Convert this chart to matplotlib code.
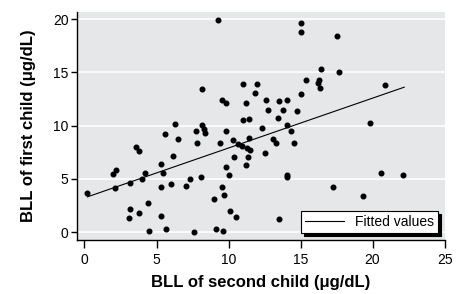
import matplotlib
matplotlib.use("Agg")
import matplotlib.pyplot as plt

plt.rcParams['font.family'] = ['Liberation Sans Narrow', 'Liberation Sans', 'DejaVu Sans']

# BLL pairs (second child, first child)
second_child = [0.17, 1.98, 2.2, 2.1, 3.18, 4.0, 4.22, 3.58, 3.8, 3.18,
                3.1, 3.8, 4.41, 4.5, 5.31, 5.43, 5.31, 6.0, 5.31, 5.68,
                6.12, 5.61, 6.52, 6.3, 7.74, 7.81, 7.3, 7.03, 8.09, 7.6,
                8.15, 8.15, 8.3, 8.4, 9.29, 15.03, 15.03, 11.03, 12.0, 11.84,
                9.53, 9.83, 11.22, 12.6, 13.53, 14.04, 15.36, 16.3, 16.24, 16.33,
                16.45, 17.65, 17.53, 15.03, 12.72, 13.8, 14.74, 13.42, 11.03, 11.42,
                14.04, 20.85, 19.85, 9.83, 12.35, 14.34, 9.41, 10.29, 11.44, 10.64,
                10.92, 11.26, 11.49, 13.11, 13.28, 14.55, 12.53, 10.4, 11.33, 9.83,
                11.22, 10.03, 14.04, 14.04, 9.53, 9.71, 9.02, 10.1, 10.5, 13.5,
                9.13, 9.64, 20.57, 22.14, 17.24, 19.36]
first_child = [3.7, 5.45, 5.8, 4.1, 4.57, 4.98, 5.57, 7.98, 7.6, 2.13,
               1.35, 1.75, 2.72, 0.12, 6.38, 5.5, 4.26, 4.48, 1.53, 0.31,
               7.16, 9.2, 8.7, 10.1, 9.48, 8.38, 4.98, 4.35, 5.2, 0.03,
               13.46, 10.02, 9.7, 9.3, 19.9, 19.6, 18.8, 13.87, 13.87, 13.05,
               12.36, 12.08, 12.08, 12.36, 12.27, 12.42, 14.24, 14.24, 14.02, 13.55,
               15.28, 15.05, 18.4, 12.96, 11.43, 11.43, 11.33, 10.7, 10.55, 10.64,
               10.02, 13.77, 10.2, 9.51, 9.73, 9.48, 8.33, 8.64, 8.8, 8.23,
               8.1, 7.92, 7.7, 8.73, 8.33, 8.33, 7.39, 7.01, 7.01, 6.07,
               6.29, 5.35, 5.4, 5.2, 4.26, 3.47, 3.07, 1.97, 1.44, 1.22,
               0.25, 0.12, 5.57, 5.35, 4.2, 3.35]

# fitted line end points
fit_x = [0.2, 22.2]
fit_y = [3.3, 13.6]

fig = plt.figure(figsize=(4.61, 2.94), dpi=100)
ax = fig.add_axes([77 / 461, 1 - 240 / 294, 368 / 461, 228 / 294])
ax.set_facecolor('#e6e7e9')

ax.scatter(second_child, first_child, s=11, color='black', zorder=3)
ax.plot(fit_x, fit_y, color='black', lw=0.8, zorder=2, label='Fitted values')

ax.set_xlim(-0.52, 25.03)
ax.set_ylim(-0.75, 20.66)
ax.set_xticks([0, 5, 10, 15, 20, 25])
ax.set_yticks([0, 5, 10, 15, 20])
ax.yaxis.grid(True, color='white', lw=1.2)
ax.set_axisbelow(True)

for s in ['top', 'right']:
    ax.spines[s].set_visible(False)
ax.spines['left'].set_linewidth(1.0)
ax.spines['bottom'].set_linewidth(1.0)
ax.tick_params(axis='x', length=6, width=1, pad=3, labelsize=10)
ax.tick_params(axis='y', length=4, width=1, pad=2, labelsize=10)

ax.set_xlabel('BLL of second child (\u03bcg/dL)', fontsize=12, fontweight='bold', labelpad=6)
ax.set_ylabel('BLL of first child (\u03bcg/dL)', fontsize=12, fontweight='bold', labelpad=12)

leg = ax.legend(loc='lower right', frameon=True, fancybox=False, fontsize=10,
                shadow={'color': 'black', 'alpha': 1}, handlelength=2.8,
                borderaxespad=0.5, borderpad=0.3)
leg.get_frame().set_edgecolor('black')
leg.get_frame().set_linewidth(0.8)

fig.savefig('out.png', dpi=100)
